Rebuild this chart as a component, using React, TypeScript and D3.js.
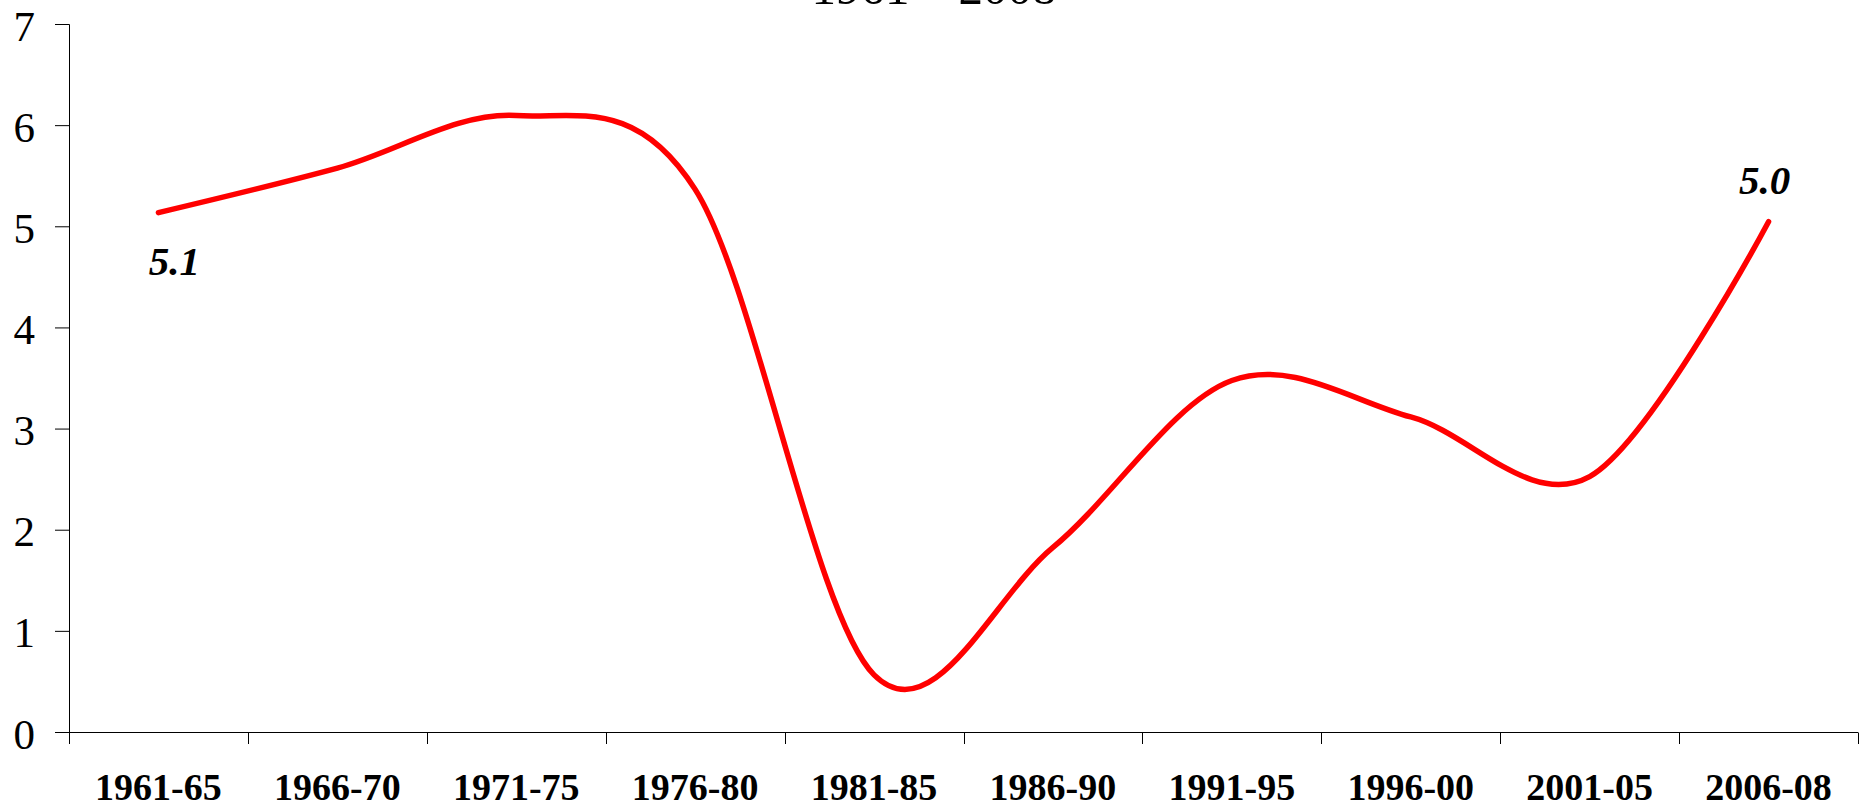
import * as d3 from 'd3';
import React, { useEffect, useRef } from 'react';

const periods = ['1961-65', '1966-70', '1971-75', '1976-80', '1981-85', '1986-90', '1991-95', '1996-00', '2001-05', '2006-08'];
const growthValues = [5.14, 5.58, 6.10, 5.37, 0.57, 1.83, 3.48, 3.12, 2.53, 5.05];
const yTickValues = [0, 1, 2, 3, 4, 5, 6, 7];
const firstLabel = '5.1';
const lastLabel = '5.0';
const titleText = '1961 \u2013 2008';

const svgWidth = 1864;
const svgHeight = 805;

export default function App() {
  const chartRef = useRef(null);

  useEffect(() => {
    const svg = d3.select(chartRef.current);
    svg.selectAll('*').remove();

    const xScale = d3.scaleBand().domain(periods).range([69, 1858]).padding(0);
    const yScale = d3.scaleLinear().domain([0, 7]).range([732.5, 24.5]);
    const font = '"Liberation Serif", "Times New Roman", serif';

    // title (mostly cut off at the top edge, as in the original)
    svg.append('text')
      .attr('x', 934)
      .attr('y', 4)
      .attr('text-anchor', 'middle')
      .attr('font-family', font)
      .attr('font-size', 49)
      .text(titleText);

    // y axis
    svg.append('line')
      .attr('x1', 69.5).attr('x2', 69.5)
      .attr('y1', yScale(7)).attr('y2', 744)
      .attr('stroke', '#000').attr('stroke-width', 1);

    const yTicks = svg.append('g').attr('class', 'yAxis');
    yTicks.selectAll('line')
      .data(yTickValues)
      .enter()
      .append('line')
      .attr('x1', 55).attr('x2', 69.5)
      .attr('y1', d => yScale(d)).attr('y2', d => yScale(d))
      .attr('stroke', '#000').attr('stroke-width', 1);
    yTicks.selectAll('text')
      .data(yTickValues)
      .enter()
      .append('text')
      .attr('x', 35)
      .attr('y', d => yScale(d) + 16)
      .attr('text-anchor', 'end')
      .attr('font-family', font)
      .attr('font-size', 43)
      .text(d => d);

    // x axis
    svg.append('line')
      .attr('x1', 55).attr('x2', 1858)
      .attr('y1', yScale(0)).attr('y2', yScale(0))
      .attr('stroke', '#000').attr('stroke-width', 1);

    const boundaries = periods.map(p => xScale(p)).concat(xScale.range()[1]);
    svg.append('g').selectAll('line')
      .data(boundaries)
      .enter()
      .append('line')
      .attr('x1', d => Math.round(d) + 0.5).attr('x2', d => Math.round(d) + 0.5)
      .attr('y1', yScale(0)).attr('y2', 744)
      .attr('stroke', '#000').attr('stroke-width', 1);

    svg.append('g').selectAll('text')
      .data(periods)
      .enter()
      .append('text')
      .attr('x', d => xScale(d) + xScale.bandwidth() / 2)
      .attr('y', 800)
      .attr('text-anchor', 'middle')
      .attr('font-family', font)
      .attr('font-weight', 'bold')
      .attr('font-size', 38)
      .text(d => d);

    // smoothed line, like Excel's smoothed series
    const line = d3.line()
      .x((d, i) => xScale(periods[i]) + xScale.bandwidth() / 2)
      .y(d => yScale(d))
      .curve(d3.curveCardinal.tension(0));

    svg.append('path')
      .datum(growthValues)
      .attr('d', line)
      .attr('fill', 'none')
      .attr('stroke', '#ff0000')
      .attr('stroke-width', 5.5)
      .attr('stroke-linejoin', 'round')
      .attr('stroke-linecap', 'round');

    const firstX = xScale(periods[0]) + xScale.bandwidth() / 2;
    const lastX = xScale(periods[periods.length - 1]) + xScale.bandwidth() / 2;

    svg.append('text')
      .attr('x', firstX + 16)
      .attr('y', yScale(growthValues[0]) + 62)
      .attr('text-anchor', 'middle')
      .attr('font-family', font)
      .attr('font-weight', 'bold')
      .attr('font-style', 'italic')
      .attr('font-size', 41)
      .text(firstLabel);

    svg.append('text')
      .attr('x', lastX - 4)
      .attr('y', yScale(growthValues[growthValues.length - 1]) - 28)
      .attr('text-anchor', 'middle')
      .attr('font-family', font)
      .attr('font-weight', 'bold')
      .attr('font-style', 'italic')
      .attr('font-size', 41)
      .text(lastLabel);
  }, []);

  return (
    <svg
      ref={chartRef}
      width={svgWidth}
      height={svgHeight}
      style={{ position: 'absolute', left: 0, top: 0, background: '#fff' }}
    />
  );
}
